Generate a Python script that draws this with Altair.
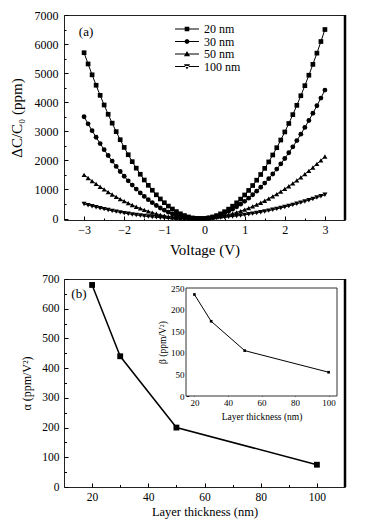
import altair as alt
import pandas as pd

# ---------------- data ----------------
voltage = [-3.0, -2.9, -2.8, -2.7, -2.6, -2.5, -2.4, -2.3, -2.2, -2.1,
           -2.0, -1.9, -1.8, -1.7, -1.6, -1.5, -1.4, -1.3, -1.2, -1.1,
           -1.0, -0.9, -0.8, -0.7, -0.6, -0.5, -0.4, -0.3, -0.2, -0.1,
           0.0,
           0.1, 0.2, 0.3, 0.4, 0.5, 0.6, 0.7, 0.8, 0.9, 1.0,
           1.1, 1.2, 1.3, 1.4, 1.5, 1.6, 1.7, 1.8, 1.9, 2.0,
           2.1, 2.2, 2.3, 2.4, 2.5, 2.6, 2.7, 2.8, 2.9, 3.0]

dc_20nm = [5703, 5316, 4943, 4584, 4237, 3905, 3586, 3281, 2989, 2711,
           2446, 2195, 1957, 1733, 1523, 1326, 1143, 973, 817, 674,
           545, 429, 328, 239, 164, 103, 55, 21, 1, 0,
           0,
           20, 54, 101, 162, 236, 324, 425, 540, 669, 811,
           967, 1136, 1319, 1515, 1725, 1948, 2186, 2436, 2700, 2978,
           3269, 3574, 3893, 4224, 4570, 4929, 5302, 5688, 6088, 6501]

dc_30nm = [3501, 3257, 3021, 2795, 2577, 2368, 2167, 1976, 1793, 1619,
           1454, 1298, 1150, 1012, 882, 761, 648, 545, 450, 364,
           287, 219, 159, 109, 67, 34, 9, 0, 0, 0,
           0,
           20, 48, 86, 132, 187, 250, 323, 404, 494, 593,
           701, 817, 943, 1077, 1220, 1371, 1532, 1701, 1879, 2066,
           2262, 2466, 2680, 2902, 3133, 3372, 3621, 3878, 4144, 4419]

dc_50nm = [1503, 1394, 1290, 1189, 1093, 1000, 912, 827, 747, 670,
           598, 530, 465, 405, 349, 297, 249, 205, 165, 129,
           97, 69, 45, 25, 10, 0, 0, 0, 0, 0,
           0,
           13, 29, 50, 74, 103, 136, 172, 213, 258, 307,
           360, 417, 478, 543, 612, 685, 762, 843, 929, 1018,
           1111, 1209, 1310, 1416, 1525, 1639, 1756, 1878, 2003, 2133]

dc_100nm = [498, 460, 424, 389, 356, 324, 293, 264, 237, 211,
            186, 163, 141, 121, 102, 85, 69, 54, 42, 30,
            20, 11, 4, 0, 0, 0, 0, 0, 0, 0,
            0,
            6, 14, 22, 33, 45, 58, 73, 89, 107, 126,
            147, 169, 192, 217, 244, 272, 301, 332, 364, 398,
            433, 470, 508, 548, 589, 631, 675, 721, 768, 816]

series_names = ["20 nm", "30 nm", "50 nm", "100 nm"]

thickness = [20, 30, 50, 100]
alpha_vals = [680, 440, 200, 75]
beta_vals = [235, 173, 105, 55]

# ---------------- style ----------------
FONT = "Liberation Serif"
W1, H1 = 281, 205
W2, H2 = 281, 208
IN_L, IN_R, IN_T, IN_B = 122, 273, 9, 117   # inset frame inside panel (b), px

TXT = dict(labelFont=FONT, titleFont=FONT, labelColor="black", titleColor="black",
           titleFontWeight="normal", labelFontWeight="normal")

rows = []
for name, vals in zip(series_names, [dc_20nm, dc_30nm, dc_50nm, dc_100nm]):
    for v, y in zip(voltage, vals):
        rows.append({"V": v, "dC": y, "series": name})
df_a = pd.DataFrame(rows)

df_b = pd.DataFrame({"t": thickness, "alpha": alpha_vals, "beta": beta_vals})

# ---------------- panel (a) ----------------
xa = alt.Scale(domain=[-3.5, 3.5], nice=False, zero=False)
ya = alt.Scale(domain=[-50, 7000], nice=False, zero=False)

ax_xa = alt.Axis(values=[-3, -2, -1, 0, 1, 2, 3], format="d", title="Voltage (V)",
                 ticks=False, tickSize=0, domain=False, grid=False,
                 labelFontSize=12, titleFontSize=15, labelPadding=4, titlePadding=7, **TXT)
ax_ya = alt.Axis(values=[0, 1000, 2000, 3000, 4000, 5000, 6000, 7000], format="d",
                 title="ΔC/C₀ (ppm)", ticks=False, tickSize=0, domain=False, grid=False,
                 labelFontSize=12, titleFontSize=15, labelPadding=6, titlePadding=10, **TXT)

base_a = alt.Chart(df_a)
X_a = alt.X("V:Q", scale=xa, axis=ax_xa)
Y_a = alt.Y("dC:Q", scale=ya, axis=ax_ya)

lines_a = base_a.mark_line(color="black", strokeWidth=1).encode(
    x=X_a, y=Y_a, detail="series:N")

points_a = base_a.mark_point(filled=True, color="black", opacity=1).encode(
    x=X_a, y=Y_a,
    shape=alt.Shape("series:N", scale=alt.Scale(domain=series_names,
                    range=["square", "circle", "triangle-up", "triangle-down"]), legend=None),
    size=alt.Size("series:N", scale=alt.Scale(domain=series_names, range=[22, 26, 34, 34]), legend=None),
)

LINE = "M-2.5,-0.1L2.5,-0.1L2.5,0.1L-2.5,0.1Z"
circ = ("M0.5,0L0.433,0.25L0.25,0.433L0,0.5L-0.25,0.433L-0.433,0.25L-0.5,0"
        "L-0.433,-0.25L-0.25,-0.433L0,-0.5L0.25,-0.433L0.433,-0.25Z")
legend_paths = [
    LINE + "M-0.48,-0.48L0.48,-0.48L0.48,0.48L-0.48,0.48Z",
    LINE + circ,
    LINE + "M0,-0.62L0.64,0.46L-0.64,0.46Z",
    LINE + "M0,0.62L0.64,-0.46L-0.64,-0.46Z",
]
legend_a = base_a.mark_point(filled=True, color="black", opacity=0).encode(
    x=X_a, y=Y_a,
    shape=alt.Shape("series:N", scale=alt.Scale(domain=series_names, range=legend_paths),
                    legend=alt.Legend(title=None, orient="none", legendX=117, legendY=8,
                                      symbolSize=92, symbolOpacity=1, symbolFillColor="black",
                                      symbolStrokeColor="black", symbolStrokeWidth=0,
                                      labelFont=FONT, labelFontSize=12, labelColor="black",
                                      labelOffset=11, rowPadding=0.5, padding=0)),
)

text_a = alt.Chart(pd.DataFrame({"V": [-2.95], "dC": [6400], "label": ["(a)"]})).mark_text(
    font=FONT, fontSize=13, color="black").encode(x=X_a, y=Y_a, text="label:N")

edge_a = alt.Chart(pd.DataFrame({"V": [3.5]})).mark_rule(color="black", strokeWidth=2.5).encode(x=X_a)

inner_a = alt.layer(lines_a, points_a, legend_a, text_a, edge_a).resolve_scale(
    shape="independent")

tick_df_a = pd.DataFrame({"V": [0.0], "dC": [0.0]})


def tick_layer(df, xf, yf, xs, ys, xvals, yvals, xoff, yoff, size):
    return alt.Chart(df).mark_point(opacity=0).encode(
        x=alt.X(xf, scale=xs, axis=alt.Axis(orient="top", offset=xoff, values=xvals, labels=False,
                                            domain=False, ticks=True, tickSize=size, tickColor="black",
                                            tickWidth=1, title=None, grid=False)),
        y=alt.Y(yf, scale=ys, axis=alt.Axis(orient="right", offset=yoff, values=yvals, labels=False,
                                            domain=False, ticks=True, tickSize=size, tickColor="black",
                                            tickWidth=1, title=None, grid=False)),
    )


major_a = tick_layer(tick_df_a, "V:Q", "dC:Q", xa, ya, [-3, -2, -1, 0, 1, 2, 3],
                     [0, 1000, 2000, 3000, 4000, 5000, 6000, 7000], -H1, -W1, 4)
minor_a = tick_layer(tick_df_a, "V:Q", "dC:Q", xa, ya, [-2.5, -1.5, -0.5, 0.5, 1.5, 2.5],
                     [500, 1500, 2500, 3500, 4500, 5500, 6500], -H1, -W1, 2)

chart_a = alt.layer(inner_a, major_a, minor_a).resolve_scale(
    x="independent", y="independent").properties(width=W1, height=H1)

# ---------------- panel (b) ----------------
xb = alt.Scale(domain=[10, 110], nice=False, zero=False)
yb = alt.Scale(domain=[0, 700], nice=False, zero=False)
ax_xb = alt.Axis(values=[20, 40, 60, 80, 100], format="d", title="Layer thickness (nm)",
                 ticks=False, tickSize=0, domain=False, grid=False,
                 labelFontSize=11.5, titleFontSize=12.5, labelPadding=4, titlePadding=3, **TXT)
ax_yb = alt.Axis(values=[0, 100, 200, 300, 400, 500, 600, 700], format="d",
                 title="α (ppm/V²)", ticks=False, tickSize=0, domain=False, grid=False,
                 labelFontSize=11.5, titleFontSize=12, labelPadding=5, titlePadding=8, **TXT)
X_b = alt.X("t:Q", scale=xb, axis=ax_xb)
Y_b = alt.Y("alpha:Q", scale=yb, axis=ax_yb)

line_b = alt.Chart(df_b).mark_line(color="black", strokeWidth=1.5).encode(x=X_b, y=Y_b)
pts_b = alt.Chart(df_b).mark_point(shape="square", filled=True, color="black", opacity=1,
                                   size=34).encode(x=X_b, y=Y_b)
text_b = alt.Chart(pd.DataFrame({"t": [15.3], "alpha": [650], "label": ["(b)"]})).mark_text(
    font=FONT, fontSize=13, color="black").encode(x=X_b, y=Y_b, text="label:N")
edge_b = alt.Chart(pd.DataFrame({"t": [110]})).mark_rule(color="black", strokeWidth=2.5).encode(x=X_b)
inner_b = alt.layer(line_b, pts_b, text_b, edge_b)

tick_df_b = pd.DataFrame({"t": [50], "alpha": [100]})
major_b = tick_layer(tick_df_b, "t:Q", "alpha:Q", xb, yb, [20, 40, 60, 80, 100],
                     [0, 100, 200, 300, 400, 500, 600, 700], -H2, -W2, 4)
minor_b = tick_layer(tick_df_b, "t:Q", "alpha:Q", xb, yb, [30, 50, 70, 90],
                     [50, 150, 250, 350, 450, 550, 650], -H2, -W2, 2.5)

# inset
xi = alt.Scale(domain=[15, 105], range=[IN_L, IN_R], nice=False, zero=False)
yi = alt.Scale(domain=[0, 250], range=[IN_B, IN_T], nice=False, zero=False)
ax_xi = alt.Axis(orient="bottom", offset=-(H2 - IN_B), values=[20, 40, 60, 80, 100], format="d",
                 title="Layer thickness (nm)", ticks=False, tickSize=0, domain=False, grid=False,
                 labelFontSize=9, titleFontSize=9.5, labelPadding=2, titlePadding=4, **TXT)
ax_yi = alt.Axis(orient="left", offset=-IN_L, values=[0, 50, 100, 150, 200, 250], format="d",
                 title="β (ppm/V²)", ticks=False, tickSize=0, domain=False, grid=False,
                 labelFontSize=9, titleFontSize=9.5, labelPadding=2, titlePadding=3, **TXT)

frame_df = pd.DataFrame({"t": [15], "t2": [105], "beta": [0], "beta2": [250]})
inset_frame = alt.Chart(frame_df).mark_rect(fill="white", stroke="#333", strokeWidth=1).encode(
    x=alt.X("t:Q", scale=xi, axis=ax_xi), x2="t2:Q",
    y=alt.Y("beta:Q", scale=yi, axis=ax_yi), y2="beta2:Q")
inset_line = alt.Chart(df_b).mark_line(color="black", strokeWidth=1).encode(
    x=alt.X("t:Q", scale=xi, axis=ax_xi), y=alt.Y("beta:Q", scale=yi, axis=ax_yi))
inset_pts = alt.Chart(df_b).mark_point(shape="square", filled=True, color="black", opacity=1,
                                       size=7).encode(
    x=alt.X("t:Q", scale=xi, axis=ax_xi), y=alt.Y("beta:Q", scale=yi, axis=ax_yi))
inset = alt.layer(inset_frame, inset_line, inset_pts)

tick_df_i = pd.DataFrame({"t": [50], "beta": [100]})
inset_ticks = tick_layer(tick_df_i, "t:Q", "beta:Q", xi, yi, [20, 40, 60, 80, 100],
                         [0, 50, 100, 150, 200, 250], -IN_B, -(W2 - IN_L), 3)

chart_b = alt.layer(inner_b, major_b, minor_b, inset, inset_ticks).resolve_scale(
    x="independent", y="independent").properties(width=W2, height=H2)

chart = alt.vconcat(chart_a, chart_b, spacing=14).properties(
    padding={"left": 0, "top": 0, "right": 5, "bottom": 0}
).configure_view(stroke="#222", strokeWidth=1).configure_axis(
    labelFont=FONT, titleFont=FONT, labelColor="black", titleColor="black",
    titleFontWeight="normal", grid=False
).configure_legend(labelFont=FONT)

chart.save("out.html", embed_options={"renderer": "svg", "actions": False})
